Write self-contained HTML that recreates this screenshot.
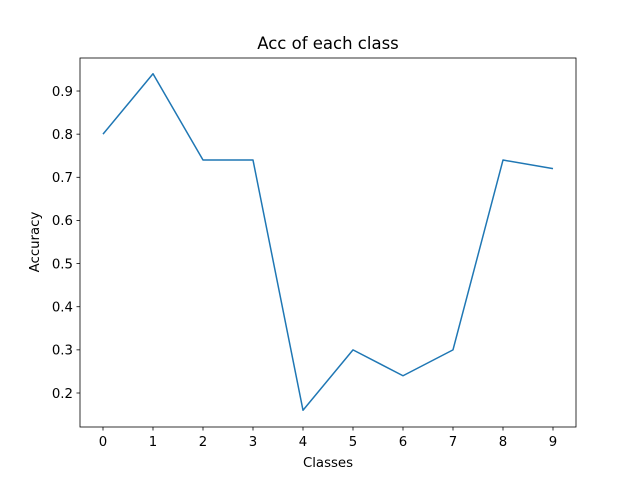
<!DOCTYPE html>
<html><head><meta charset="utf-8"><style>
body{margin:0;background:#fff}
svg text{font-family:"DejaVu Sans","Liberation Sans",sans-serif;fill:#000}
</style></head><body>
<svg id="chart" width="640" height="480" xmlns="http://www.w3.org/2000/svg">
<rect width="640" height="480" fill="#fff"/>
<text x="328" y="49" font-size="16.5" text-anchor="middle">Acc of each class</text>
<text x="328" y="467" font-size="13.3" text-anchor="middle">Classes</text>
<text x="0" y="0" font-size="13.3" text-anchor="middle" transform="translate(39,242) rotate(-90)">Accuracy</text>
<g id="xticks"></g>
<g id="yticks"></g>
<path id="line" fill="none" stroke="#1f77b4" stroke-width="1.5" stroke-linejoin="round"/>
<rect x="80" y="58" width="496" height="369" fill="none" stroke="#000" stroke-width="0.8"/>
</svg>
<script>
const categories=[0,1,2,3,4,5,6,7,8,9];
const accuracy=[0.80,0.94,0.74,0.74,0.16,0.30,0.24,0.30,0.74,0.72];
const yTickValues=[0.2,0.3,0.4,0.5,0.6,0.7,0.8,0.9];
const yTickLabels=["0.2","0.3","0.4","0.5","0.6","0.7","0.8","0.9"];
const NS="http://www.w3.org/2000/svg";
function xs(i){return 103+i*50;}
function ys(v){return 393-(v-0.2)*431.4;}
const xg=document.getElementById('xticks'),yg=document.getElementById('yticks');
categories.forEach(c=>{
 const l=document.createElementNS(NS,'line');
 l.setAttribute('x1',xs(c));l.setAttribute('x2',xs(c));l.setAttribute('y1',427);l.setAttribute('y2',430.5);
 l.setAttribute('stroke','#000');l.setAttribute('stroke-width','0.8');
 
 
 xg.appendChild(l);
 const t=document.createElementNS(NS,'text');
 t.setAttribute('x',xs(c));t.setAttribute('y',446);t.setAttribute('font-size','13.3');t.setAttribute('text-anchor','middle');
 t.textContent=c;
 
 
 xg.appendChild(t);
});
yTickValues.forEach((v,i)=>{
 const l=document.createElementNS(NS,'line');
 l.setAttribute('x1',76.5);l.setAttribute('x2',80);l.setAttribute('y1',ys(v));l.setAttribute('y2',ys(v));
 l.setAttribute('stroke','#000');l.setAttribute('stroke-width','0.8');
 
 
 yg.appendChild(l);
 const t=document.createElementNS(NS,'text');
 t.setAttribute('x',73);t.setAttribute('y',ys(v)+4.8);t.setAttribute('font-size','13.3');t.setAttribute('text-anchor','end');
 t.textContent=yTickLabels[i];
 
 
 yg.appendChild(t);
});
document.getElementById('line').setAttribute('d',accuracy.map((v,i)=>(i?'L':'M')+xs(categories[i])+','+ys(v)).join(' '));
</script>
</body></html>
